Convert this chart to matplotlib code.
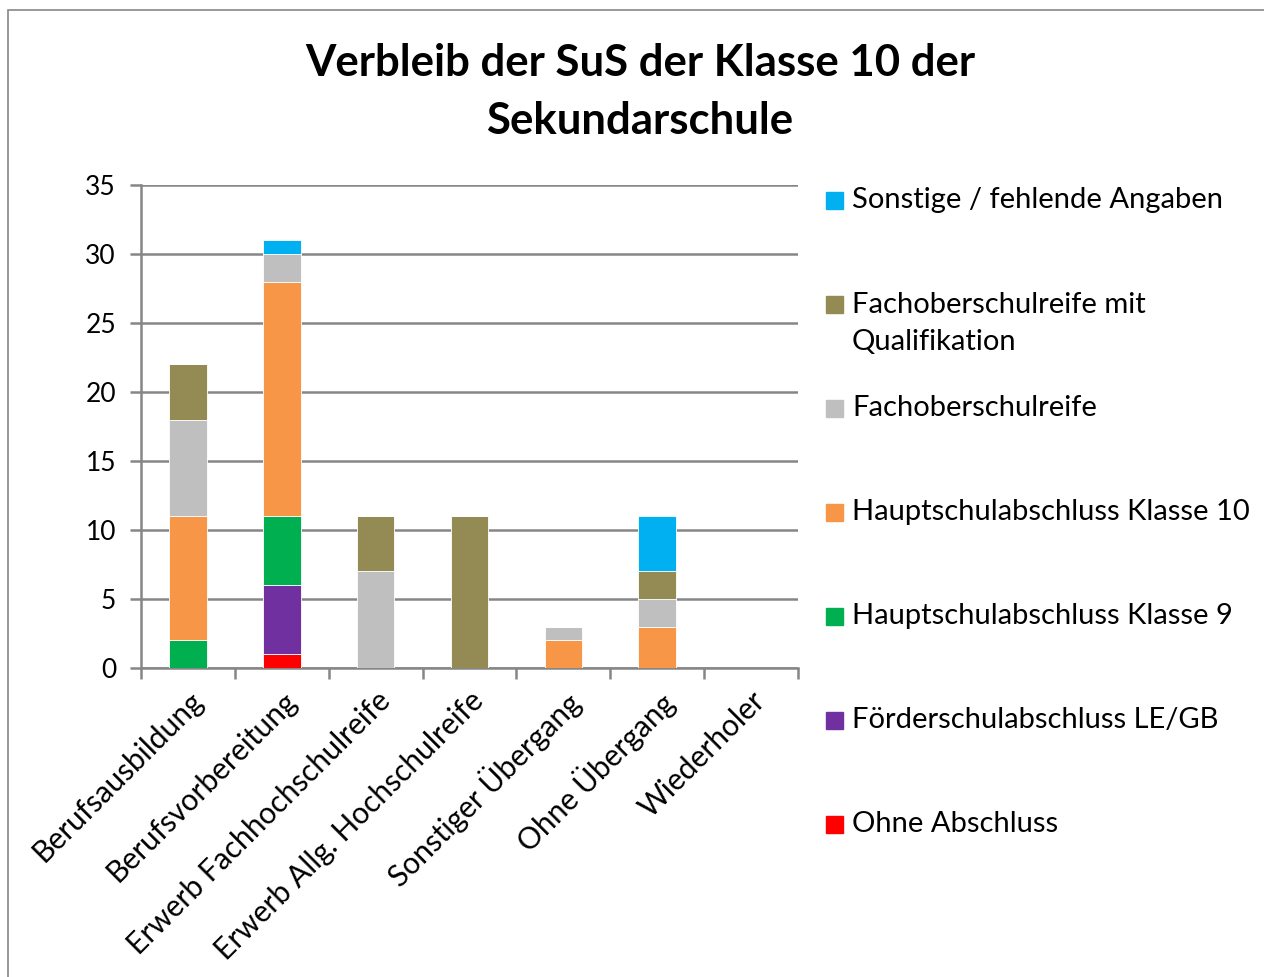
import matplotlib
matplotlib.use("Agg")
import matplotlib.pyplot as plt
from matplotlib.patches import Rectangle
import numpy as np

plt.rcParams['font.family'] = ['Lato', 'DejaVu Sans']

categories = ['Berufsausbildung', 'Berufsvorbereitung', 'Erwerb Fachhochschulreife',
              'Erwerb Allg. Hochschulreife', 'Sonstiger Übergang', 'Ohne Übergang',
              'Wiederholer']

# stacked from bottom to top
series = ['Ohne Abschluss', 'Förderschulabschluss LE/GB', 'Hauptschulabschluss Klasse 9',
          'Hauptschulabschluss Klasse 10', 'Fachoberschulreife',
          'Fachoberschulreife mit\nQualifikation', 'Sonstige / fehlende Angaben']
ohne_abschluss = [0, 1, 0, 0, 0, 0, 0]
foerderschule = [0, 5, 0, 0, 0, 0, 0]
hsa_9 = [2, 5, 0, 0, 0, 0, 0]
hsa_10 = [9, 17, 0, 0, 2, 3, 0]
fos_reife = [7, 2, 7, 0, 1, 2, 0]
fos_reife_q = [4, 0, 4, 11, 0, 2, 0]
sonstige = [0, 1, 0, 0, 0, 4, 0]
values = [ohne_abschluss, foerderschule, hsa_9, hsa_10, fos_reife, fos_reife_q, sonstige]
colors = ['#FF0000', '#7030A0', '#00B050', '#F79646', '#BFBFBF', '#948A54', '#00B0F0']

W, H = 1264, 977
fig = plt.figure(figsize=(W / 100, H / 100), dpi=100)
ax = fig.add_axes([141 / W, 1 - 668 / H, (798 - 141) / W, (668 - 185) / H])

x = np.arange(len(categories))
bottom = np.zeros(len(categories))
for vals, col in zip(values, colors):
    ax.bar(x, vals, 0.4, bottom=bottom, color=col, edgecolor='white', linewidth=0.6, zorder=3)
    bottom += np.array(vals)

ax.set_xlim(-0.5, len(categories) - 0.5)
ax.set_ylim(0, 35)
ax.set_yticks(range(0, 36, 5))
ax.yaxis.grid(True, color='#868686', linewidth=1.8, zorder=0)
ax.set_xticks(np.arange(len(categories) + 1) - 0.5)
ax.set_xticklabels([])
ax.set_xticks(x, minor=True)
ax.set_xticklabels(categories, minor=True, rotation=45, ha='right', va='top',
                   rotation_mode='anchor', fontsize=21.5)
ax.tick_params(axis='x', which='minor', length=0, pad=13)
ax.tick_params(axis='x', which='major', length=8, width=1.8, color='#868686')
ax.tick_params(axis='y', length=8, width=1.8, color='#868686', labelsize=19, pad=10)
for s in ['top', 'right']:
    ax.spines[s].set_visible(False)
for s in ['left', 'bottom']:
    ax.spines[s].set_color('#868686')
    ax.spines[s].set_linewidth(1.8)

fig.text(640 / W, 1 - 92 / H, 'Verbleib der SuS der Klasse 10 der\nSekundarschule',
         ha='center', va='center', fontsize=31.5, fontweight='bold', linespacing=1.55)

# legend (top entry first)
leg_y = [200, 304, 408, 512, 616, 720, 824]
for i, yy in enumerate(leg_y):
    k = len(series) - 1 - i
    fig.patches.append(Rectangle((826 / W, 1 - (yy + 9) / H), 17 / W, 17 / H,
                                 transform=fig.transFigure, color=colors[k]))
    ty = yy + 19.5 if '\n' in series[k] else yy
    fig.text(852 / W, 1 - ty / H, series[k], ha='left', va='center',
             fontsize=21, linespacing=1.5)

fig.patches.append(Rectangle((8 / W, -0.01), 1.1, 1 - 10 / H + 0.01, transform=fig.transFigure,
                             fill=False, edgecolor='#888888', linewidth=1.2))

fig.savefig('out.png', dpi=100)
